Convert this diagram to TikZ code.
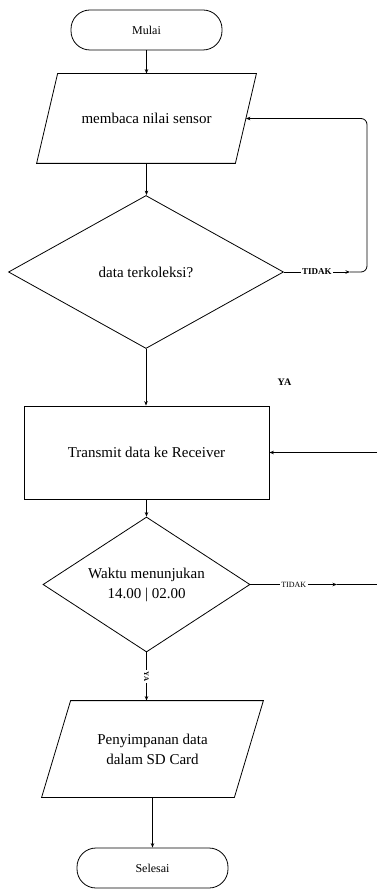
\documentclass[tikz,border=0pt]{standalone}
\usepackage{fontspec}
\setmainfont{Liberation Serif}
\usetikzlibrary{arrows.meta, shapes.geometric, positioning, calc}

\begin{document}
\begin{tikzpicture}[x=1pt, y=-1pt, line width=0.8pt,
    >={Stealth[length=4.5pt,width=3.5pt]},
    term/.style={draw, rectangle, rounded corners=19pt, minimum width=151pt, minimum height=40pt, font=\fontsize{12}{14}\selectfont},
    io/.style={rectangle, align=center, inner sep=0pt, font=\fontsize{15}{20}\selectfont},
    proc/.style={draw, rectangle, align=center, font=\fontsize{15}{20}\selectfont},
    dec/.style={draw, diamond, align=center, inner sep=0pt, font=\fontsize{15}{20}\selectfont},
    lbl/.style={font=\fontsize{9}{10}\selectfont\bfseries, fill=white, inner sep=1.5pt},
    lbltwo/.style={font=\fontsize{8}{9}\selectfont, fill=white, inner sep=1.5pt}]
    \useasboundingbox (0,0) rectangle (377,893);

    \node[term] (mulai) at (146.5,30) {Mulai};
    \node[io, minimum width=219pt, minimum height=89pt] (baca) at (146.5,118.5) {membaca nilai sensor};
    \draw ($(baca.north west)+(21,0)$) -- (baca.north east) -- ($(baca.south east)+(-21,0)$) -- (baca.south west) -- cycle;
    \node[dec, aspect=1.8, minimum width=275pt, minimum height=153pt] (cek) at (146,272) {data terkoleksi?};
    \node[proc, minimum width=245pt, minimum height=93pt] (kirim) at (146.5,452.5) {Transmit data ke Receiver};
    \node[dec, aspect=1.53, minimum width=207pt, minimum height=135pt] (waktu) at (146.5,584.5) {Waktu menunjukan\\14.00 | 02.00};
    \node[io, minimum width=221pt, minimum height=96pt] (simpan) at (152.5,749) {Penyimpanan data\\dalam SD Card};
    \draw ($(simpan.north west)+(29,0)$) -- (simpan.north east) -- ($(simpan.south east)+(-29,0)$) -- (simpan.south west) -- cycle;
    \node[term] (selesai) at (152.5,868) {Selesai};
    \node[font=\fontsize{10}{11}\selectfont\bfseries] (ya) at (284.5,382) {YA};

    \coordinate (bacakanan) at ($(baca.east)+(-10.5,0)$);
    \coordinate (t1) at (350,272);
    \coordinate (k1) at (367,272);
    \coordinate (k2) at (367,118.5);
    \coordinate (t2) at (337,584.5);
    \coordinate (r2) at (377,584.5);
    \coordinate (r1) at (377,452.5);

    \draw[->] (mulai.south) -- (mulai.south |- baca.north);
    \draw[->] (baca.south) -- (baca.south |- cek.north);
    \draw[->] (cek.east) -- node[lbl]{TIDAK} (t1);
    \draw[->, rounded corners=6pt] (t1) -- (k1) -- (k2) -- (bacakanan);
    \draw[->] (cek.south) -- (cek.south |- kirim.north);
    \draw[->] (r1) -- (kirim.east);
    \draw[->] (kirim.south) -- (kirim.south |- waktu.north);
    \draw[->] (waktu.east) -- node[lbltwo]{TIDAK} (t2);
    \draw (t2) -- (r2);
    \draw[->] (waktu.south) -- node[lbl, rotate=-90, font=\fontsize{7}{8}\selectfont\bfseries]{YA} (waktu.south |- simpan.north);
    \draw[->] (simpan.south) -- (selesai.north);
\end{tikzpicture}
\end{document}
